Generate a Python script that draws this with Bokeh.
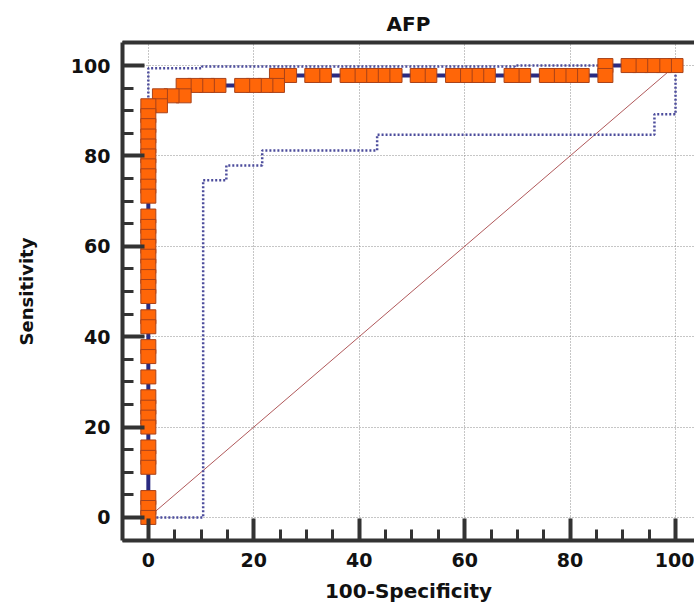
from bokeh.plotting import figure
from bokeh.models import Range1d, LinearAxis, FixedTicker, ColumnDataSource
from bokeh.embed import file_html
from bokeh.resources import INLINE

# ---- data ----
title_text = "AFP"
x_label = "100-Specificity"
y_label = "Sensitivity"
tick_values = [0, 20, 40, 60, 80, 100]

roc_x = [0, 0, 0, 0, 0, 0, 0, 0, 0, 0, 0, 0, 0, 0, 0, 0, 0, 0, 0, 0, 0, 0, 0, 0,
         0, 0, 0, 0, 0, 0, 0, 0, 0, 0,
         2.2, 2.2, 4.4, 6.7, 6.7, 8.9, 11.1, 13.3, 17.8, 20.0, 22.2, 24.4,
         24.4, 26.7, 31.1, 33.3, 37.8, 40.0, 42.2, 44.4, 46.7, 51.1, 53.3,
         57.8, 60.0, 62.2, 64.4, 68.9, 71.1, 75.6, 77.8, 80.0, 82.2, 86.7,
         86.7, 91.1, 93.3, 95.6, 97.8, 100.0]
roc_y = [0.0, 2.2, 4.4, 11.1, 13.3, 15.6, 20.0, 22.2, 24.4, 26.7, 31.1, 35.6,
         37.8, 42.2, 44.4, 48.9, 51.1, 53.3, 55.6, 57.8, 60.0, 62.2, 64.4, 66.7,
         71.1, 73.3, 75.6, 77.8, 80.0, 82.2, 84.4, 86.7, 88.9, 91.1,
         91.1, 93.3, 93.3, 93.3, 95.6, 95.6, 95.6, 95.6, 95.6, 95.6, 95.6, 95.6,
         97.8, 97.8, 97.8, 97.8, 97.8, 97.8, 97.8, 97.8, 97.8, 97.8, 97.8,
         97.8, 97.8, 97.8, 97.8, 97.8, 97.8, 97.8, 97.8, 97.8, 97.8, 97.8,
         100.0, 100.0, 100.0, 100.0, 100.0, 100.0]

upper_x = [0, 0, 10.2, 10.2, 69.5, 69.5, 100]
upper_y = [0, 99.4, 99.4, 99.8, 99.8, 100, 100]

lower_x = [0, 10.4, 10.4, 14.8, 14.8, 21.6, 21.6, 43.4, 43.4, 96.0, 96.0, 100, 100]
lower_y = [0, 0, 74.6, 74.6, 77.9, 77.9, 81.2, 81.2, 84.7, 84.7, 89.2, 89.2, 100]

diag_x = [0, 100]
diag_y = [0, 100]

# ---- figure ----
FONT = "DejaVu Sans"
p = figure(width=694, height=606, output_backend="svg", toolbar_location=None,
           x_range=Range1d(-4.9, 103.6), y_range=Range1d(-5.1, 105.1),
           min_border_left=122, min_border_right=0, min_border_top=42,
           min_border_bottom=66, background_fill_color="white",
           border_fill_color="white")
p.outline_line_color = None

p.title.text = title_text
p.title.align = "center"
p.title.text_font = FONT
p.title.text_font_size = "20px"
p.title.text_font_style = "bold"
p.title.text_color = "#111111"
p.title.standoff = 14

for ax in (p.xaxis[0], p.yaxis[0]):
    ax.ticker = FixedTicker(ticks=tick_values,
                            minor_ticks=[v for v in range(-5, 106, 5) if v % 20 != 0])
    ax.axis_line_width = 4
    ax.axis_line_color = "#333333"
    ax.major_tick_line_width = 4
    ax.major_tick_line_color = "#333333"
    ax.minor_tick_line_width = 3
    ax.minor_tick_line_color = "#333333"
    ax.major_tick_in = 22
    ax.major_tick_out = 0
    ax.minor_tick_in = 11
    ax.minor_tick_out = 0
    ax.major_label_text_font = FONT
    ax.major_label_text_font_style = "bold"
    ax.major_label_text_font_size = "19px"
    ax.major_label_text_color = "#111111"
    ax.axis_label_text_font = FONT
    ax.axis_label_text_font_style = "bold"
    ax.axis_label_text_color = "#111111"

p.xaxis.axis_label = x_label
p.xaxis.axis_label_text_font_size = "20px"
p.xaxis.major_label_standoff = 12
p.xaxis.axis_label_standoff = 9
p.yaxis.axis_label = y_label
p.yaxis.axis_label_text_font_size = "18px"
p.yaxis.major_label_standoff = 12
p.yaxis.axis_label_standoff = 31

# top border
top = LinearAxis(ticker=FixedTicker(ticks=[]), axis_line_width=4,
                 axis_line_color="#333333", major_tick_out=0, major_tick_in=0,
                 minor_tick_out=0, minor_tick_in=0, major_label_standoff=0)
p.add_layout(top, "above")

for g in (p.xgrid[0], p.ygrid[0]):
    g.grid_line_color = "#8c8c8c"
    g.grid_line_width = 1
    g.grid_line_dash = "1 2"

# diagonal
p.line(diag_x, diag_y, line_color="#b0585a", line_width=1)
# confidence bounds
p.line(upper_x, upper_y, line_color="#4c4c9c", line_width=2.5, line_dash="2 2")
p.line(lower_x, lower_y, line_color="#4c4c9c", line_width=2.5, line_dash="2 2")
# ROC curve
p.line(roc_x, roc_y, line_color="#2a2a80", line_width=4)
src = ColumnDataSource(data=dict(x=roc_x[::-1], y=roc_y[::-1]))
p.rect("x", "y", width=15, height=14, width_units="screen", height_units="screen",
       source=src, fill_color="#ff6608", line_color="#a8421a", line_width=1)

open("out.html", "w").write(file_html(p, INLINE))
